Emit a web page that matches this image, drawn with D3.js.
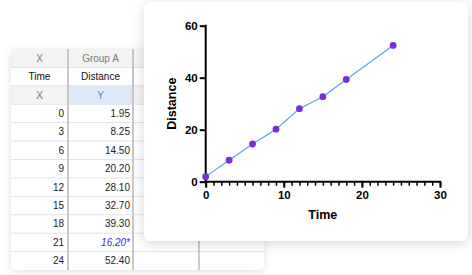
<!DOCTYPE html>
<html><head><meta charset="utf-8">
<script src="https://cdn.jsdelivr.net/npm/d3@7"></script>
<style>html,body{margin:0;padding:0;background:#fff;overflow:hidden}</style>
</head><body>
<script>
// ---- data ----
const times = [0, 3, 6, 9, 12, 15, 18, 21, 24];
const distances = [1.95, 8.25, 14.50, 20.20, 28.10, 32.70, 39.30, 16.20, 52.40];
const excluded = [false, false, false, false, false, false, false, true, false];
const headerRow1 = ["X", "Group A", "", ""];
const headerRow2 = ["Time", "Distance", "", ""];
const headerRow3 = ["X", "Y", "", ""];
const xTicks = [0, 10, 20, 30];
const yTicks = [0, 20, 40, 60];
const xTitle = "Time", yTitle = "Distance";

const W = 472, H = 275;
const svg = d3.select("body").append("svg").attr("width", W).attr("height", H);
const defs = svg.append("defs");
const f1 = defs.append("filter").attr("id", "sh1").attr("x", "-20%").attr("y", "-20%").attr("width", "140%").attr("height", "140%");
f1.append("feDropShadow").attr("dx", 0).attr("dy", 2).attr("stdDeviation", 4).attr("flood-color", "#000").attr("flood-opacity", 0.12);
const f2 = defs.append("filter").attr("id", "sh2").attr("x", "-20%").attr("y", "-20%").attr("width", "140%").attr("height", "140%");
f2.append("feDropShadow").attr("dx", 0).attr("dy", 2).attr("stdDeviation", 6).attr("flood-color", "#000").attr("flood-opacity", 0.16);

// ---- table (back card) ----
const tbl = {x0: 11, x1: 264, y0: 49, y1: 270};
const colEdges = [11, 68, 133, 199, 264];
const nRows = 3 + times.length;
const rowY = d3.scaleBand().domain(d3.range(nRows)).range([tbl.y0, tbl.y1]);
const tg = svg.append("g");
tg.append("rect").attr("x", tbl.x0).attr("y", tbl.y0).attr("width", tbl.x1 - tbl.x0).attr("height", tbl.y1 - tbl.y0)
  .attr("rx", 5).attr("fill", "#fff").attr("filter", "url(#sh1)");
// header backgrounds
tg.append("rect").attr("x", tbl.x0).attr("y", rowY(0)).attr("width", tbl.x1 - tbl.x0).attr("height", rowY.bandwidth()).attr("fill", "#f3f3f3");
tg.append("rect").attr("x", colEdges[0]).attr("y", rowY(2)).attr("width", colEdges[1] - colEdges[0]).attr("height", rowY.bandwidth()).attr("fill", "#f3f3f3");
tg.append("rect").attr("x", colEdges[1]).attr("y", rowY(2)).attr("width", colEdges[2] - colEdges[1]).attr("height", rowY.bandwidth()).attr("fill", "#dde9f8");
tg.append("rect").attr("x", colEdges[2]).attr("y", rowY(2)).attr("width", colEdges[4] - colEdges[2]).attr("height", rowY.bandwidth()).attr("fill", "#f3f3f3");
// row lines
tg.selectAll("line.row").data(d3.range(1, nRows)).join("line")
  .attr("x1", tbl.x0).attr("x2", tbl.x1).attr("y1", d => rowY(d)).attr("y2", d => rowY(d))
  .attr("stroke", "#e2e2e2").attr("stroke-width", 1);
// column lines
tg.selectAll("line.col").data([1, 2]).join("line")
  .attr("x1", d => colEdges[d]).attr("x2", d => colEdges[d]).attr("y1", tbl.y0).attr("y2", tbl.y1)
  .attr("stroke", "#c8c8c8").attr("stroke-width", 2);
tg.append("line").attr("x1", colEdges[3]).attr("x2", colEdges[3]).attr("y1", tbl.y0).attr("y2", tbl.y1)
  .attr("stroke", "#9a9a9a").attr("stroke-width", 1);
const font = "'Liberation Sans', Arial, Helvetica, sans-serif";
const headers = [headerRow1, headerRow2, headerRow3];
const hColors = [["#7a7a7a", "#7a7a7a"], ["#111", "#111"], ["#7a7a7a", "#4a8fe0"]];
headers.forEach((row, r) => {
  [0, 1].forEach(c => {
    tg.append("text").attr("x", (colEdges[c] + colEdges[c + 1]) / 2).attr("y", rowY(r) + rowY.bandwidth() / 2 + 3.5)
      .attr("text-anchor", "middle").attr("font-family", font).attr("font-size", 10)
      .attr("fill", hColors[r][c]).text(row[c]);
  });
});
times.forEach((t, i) => {
  const y = rowY(3 + i) + rowY.bandwidth() / 2 + 3.5;
  tg.append("text").attr("x", colEdges[1] - 4).attr("y", y).attr("text-anchor", "end")
    .attr("font-family", font).attr("font-size", 10).attr("fill", "#222").text(t);
  tg.append("text").attr("x", colEdges[2] - 3).attr("y", y).attr("text-anchor", "end")
    .attr("font-family", font).attr("font-size", 10)
    .attr("fill", excluded[i] ? "#3a1fe6" : "#222").attr("font-style", excluded[i] ? "italic" : "normal")
    .text(distances[i].toFixed(2) + (excluded[i] ? "*" : ""));
});

// ---- chart card ----
svg.append("rect").attr("x", 144).attr("y", 2).attr("width", 324).attr("height", 239).attr("rx", 7)
  .attr("fill", "#fff").attr("filter", "url(#sh2)");

const x = d3.scaleLinear().domain([0, 30]).range([205.7, 440]);
const y = d3.scaleLinear().domain([0, 60]).range([181.7, 25.7]);
const cg = svg.append("g").attr("font-family", font);

const pts = times.map((t, i) => ({t, d: distances[i], ex: excluded[i]})).filter(p => !p.ex);
cg.append("path").datum(pts)
  .attr("d", d3.line().x(p => x(p.t)).y(p => y(p.d)))
  .attr("fill", "none").attr("stroke", "#5aa2f2").attr("stroke-width", 1.2);

// x axis
const xAxisMinor = d3.axisBottom(x).tickValues(d3.range(0, 31, 1)).tickSize(4).tickFormat("");
const gxm = cg.append("g").attr("transform", `translate(0,${y(0)})`).call(xAxisMinor);
gxm.select(".domain").remove();
gxm.selectAll(".tick line").attr("stroke", "#000").attr("stroke-width", 1.5);
const gx = cg.append("g").attr("transform", `translate(0,${y(0)})`)
  .call(d3.axisBottom(x).tickValues(xTicks).tickSize(6).tickSizeOuter(0).tickPadding(3));
gx.select(".domain").attr("stroke", "#000").attr("stroke-width", 2).attr("d", `M${x(0) - 1},0H${x(30) + 1}`);
gx.selectAll(".tick line").attr("stroke", "#000").attr("stroke-width", 2);
gx.selectAll(".tick text").attr("fill", "#000").attr("font-size", 11.5).attr("font-weight", "bold").attr("font-family", font);

// y axis
const gy = cg.append("g").attr("transform", `translate(${x(0)},0)`)
  .call(d3.axisLeft(y).tickValues(yTicks).tickSize(6).tickSizeOuter(0).tickPadding(2));
gy.select(".domain").attr("stroke", "#000").attr("stroke-width", 2).attr("d", `M0,${y(0) + 1}V${y(60) - 1}`);
gy.selectAll(".tick line").attr("stroke", "#000").attr("stroke-width", 2);
gy.selectAll(".tick text").attr("fill", "#000").attr("font-size", 11.5).attr("font-weight", "bold").attr("font-family", font);

// points
cg.selectAll("circle").data(pts).join("circle")
  .attr("cx", p => x(p.t)).attr("cy", p => y(p.d)).attr("r", 3.4).attr("fill", "#7a2fd4");

// titles
cg.append("text").attr("x", (x(0) + x(30)) / 2).attr("y", 219).attr("text-anchor", "middle")
  .attr("font-size", 12.5).attr("font-weight", "bold").text(xTitle);
cg.append("text").attr("transform", `translate(176,${y(30)}) rotate(-90)`).attr("text-anchor", "middle")
  .attr("font-size", 12.5).attr("font-weight", "bold").text(yTitle);
</script>
</body></html>
